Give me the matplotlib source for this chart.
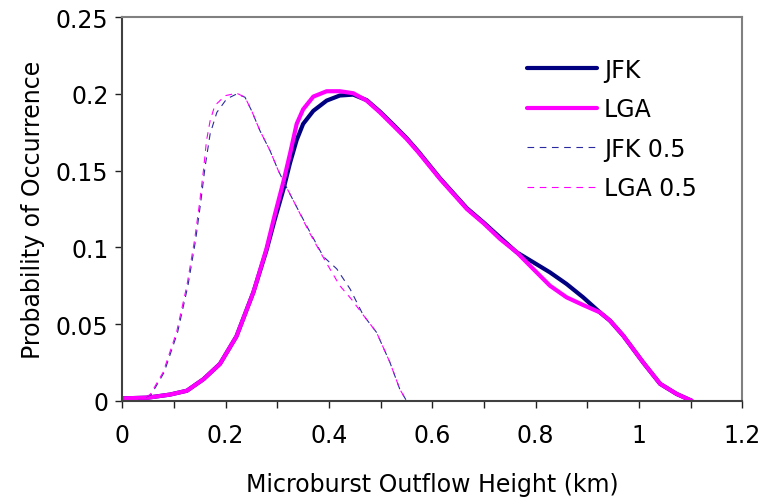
"""
Microburst outflow height distribution for JFK and LGA,
full-height curves vs. the 0.5 scaled curves.
"""

import matplotlib.pyplot as plt

# solid curves (probability vs height in km)
JFK_X = [0.0, 0.05, 0.0925, 0.125, 0.157, 0.189, 0.221, 0.254, 0.279, 0.295,
         0.312, 0.3246, 0.3375, 0.350, 0.3697, 0.3956, 0.421, 0.447, 0.473, 0.4987,
         0.5245, 0.5504, 0.573, 0.615, 0.667, 0.700, 0.7311, 0.7633, 0.7954, 0.8277,
         0.860, 0.892, 0.9245, 0.944, 0.9696, 1.008, 1.041, 1.073, 1.102]
JFK_Y = [0.0015, 0.002, 0.004, 0.0065, 0.014, 0.024, 0.042, 0.071, 0.098, 0.118,
         0.138, 0.155, 0.170, 0.1805, 0.189, 0.1957, 0.199, 0.1996, 0.196, 0.1885,
         0.180, 0.1712, 0.1625, 0.145, 0.1255, 0.116, 0.1065, 0.0968, 0.0903, 0.0837,
         0.0761, 0.0674, 0.0576, 0.0522, 0.0424, 0.025, 0.011, 0.0044, 0.0]

LGA_X = [0.0, 0.05, 0.0925, 0.125, 0.157, 0.189, 0.221, 0.254, 0.279, 0.295,
         0.312, 0.3246, 0.3375, 0.350, 0.3697, 0.3956, 0.421, 0.447, 0.473, 0.4987,
         0.5245, 0.5504, 0.573, 0.615, 0.667, 0.700, 0.7311, 0.7633, 0.7954, 0.8277,
         0.860, 0.892, 0.9245, 0.944, 0.9696, 1.008, 1.041, 1.073, 1.102]
LGA_Y = [0.0015, 0.002, 0.004, 0.0065, 0.014, 0.024, 0.042, 0.071, 0.099, 0.121,
         0.143, 0.161, 0.1805, 0.190, 0.1983, 0.2018, 0.2018, 0.2005, 0.1957, 0.188,
         0.1794, 0.1707, 0.162, 0.1446, 0.125, 0.1155, 0.1055, 0.0968, 0.0859, 0.075,
         0.0674, 0.0624, 0.0576, 0.0522, 0.0424, 0.025, 0.011, 0.0044, 0.0]

# dashed "0.5" curves
JFK05_X = [0.0, 0.03, 0.056, 0.081, 0.107, 0.127, 0.142, 0.152, 0.160, 0.170,
           0.183, 0.202, 0.2214, 0.2375, 0.2504, 0.2665, 0.286, 0.302, 0.318, 0.338,
           0.360, 0.389, 0.415, 0.441, 0.466, 0.492, 0.518, 0.537, 0.550]
JFK05_Y = [0.0, 0.0, 0.004, 0.0185, 0.0446, 0.075, 0.105, 0.130, 0.152, 0.174,
           0.188, 0.1968, 0.200, 0.1979, 0.189, 0.176, 0.163, 0.150, 0.139, 0.126,
           0.112, 0.094, 0.086, 0.0728, 0.056, 0.0446, 0.025, 0.0076, 0.0]

LGA05_X = [0.0, 0.03, 0.054, 0.079, 0.105, 0.125, 0.140, 0.150, 0.157, 0.163,
           0.170, 0.179, 0.199, 0.2214, 0.2375, 0.2504, 0.2665, 0.286, 0.302, 0.318,
           0.338, 0.360, 0.383, 0.400, 0.421, 0.444, 0.466, 0.492, 0.518, 0.537,
           0.550]
LGA05_Y = [0.0, 0.0, 0.004, 0.0185, 0.0446, 0.075, 0.105, 0.130, 0.150, 0.1696,
           0.1826, 0.1924, 0.1989, 0.2005, 0.1979, 0.189, 0.176, 0.163, 0.150, 0.139,
           0.126, 0.111, 0.097, 0.087, 0.075, 0.066, 0.056, 0.0446, 0.025, 0.0076,
           0.0]

X_TICKS = [0, 0.2, 0.4, 0.6, 0.8, 1, 1.2]
X_TICK_LABELS = ["0", "0.2", "0.4", "0.6", "0.8", "1", "1.2"]
Y_TICKS = [0, 0.05, 0.1, 0.15, 0.2, 0.25]
Y_TICK_LABELS = ["0", "0.05", "0.1", "0.15", "0.2", "0.25"]

NAVY = "#000080"
MAGENTA = "#ff00ff"
FS = 17


def main():
    plt.rcParams["font.family"] = ["DejaVu Sans"]

    fig = plt.figure(figsize=(7.62, 5.02), dpi=100)
    ax = fig.add_axes([0.1605, 0.1998, 0.8136, 0.7637])

    ax.plot(JFK_X, JFK_Y, color=NAVY, linewidth=3.0, label="JFK",
            solid_joinstyle="round", solid_capstyle="round")
    ax.plot(LGA_X, LGA_Y, color=MAGENTA, linewidth=3.0, label="LGA",
            solid_joinstyle="round", solid_capstyle="round")
    ax.plot(JFK05_X, JFK05_Y, color="#2a2aa0", linewidth=0.8,
            linestyle=(0, (6, 5)), label="JFK 0.5")
    ax.plot(LGA05_X, LGA05_Y, color=MAGENTA, linewidth=0.8,
            linestyle=(0, (6, 5)), label="LGA 0.5")

    ax.set_xlim(0, 1.2)
    ax.set_ylim(0, 0.25)
    ax.set_xticks(X_TICKS)
    ax.set_xticklabels(X_TICK_LABELS)
    ax.set_xticks([0.1, 0.3, 0.5, 0.7, 0.9, 1.1], minor=True)
    ax.set_yticks(Y_TICKS)
    ax.set_yticklabels(Y_TICK_LABELS)

    ax.tick_params(axis="both", which="both", direction="out", length=5,
                   width=1, color="#202020", labelsize=FS)
    ax.tick_params(axis="x", which="major", pad=11)
    ax.tick_params(axis="y", which="major", pad=5)

    for side in ("left", "bottom"):
        ax.spines[side].set_color("#404040")
        ax.spines[side].set_linewidth(1.5)
    for side in ("top", "right"):
        ax.spines[side].set_color("#808080")
        ax.spines[side].set_linewidth(1.5)

    ax.set_xlabel("Microburst Outflow Height (km)", fontsize=FS, labelpad=18)
    ax.set_ylabel("Probability of Occurrence", fontsize=FS, labelpad=8)

    ax.legend(loc="upper left", bbox_to_anchor=(0.653, 0.895),
              bbox_transform=ax.transAxes, frameon=False, fontsize=FS,
              handlelength=2.95, handletextpad=0.31, labelspacing=0.66,
              borderpad=0, borderaxespad=0)

    fig.savefig("out.png", dpi=100)


if __name__ == "__main__":
    main()
